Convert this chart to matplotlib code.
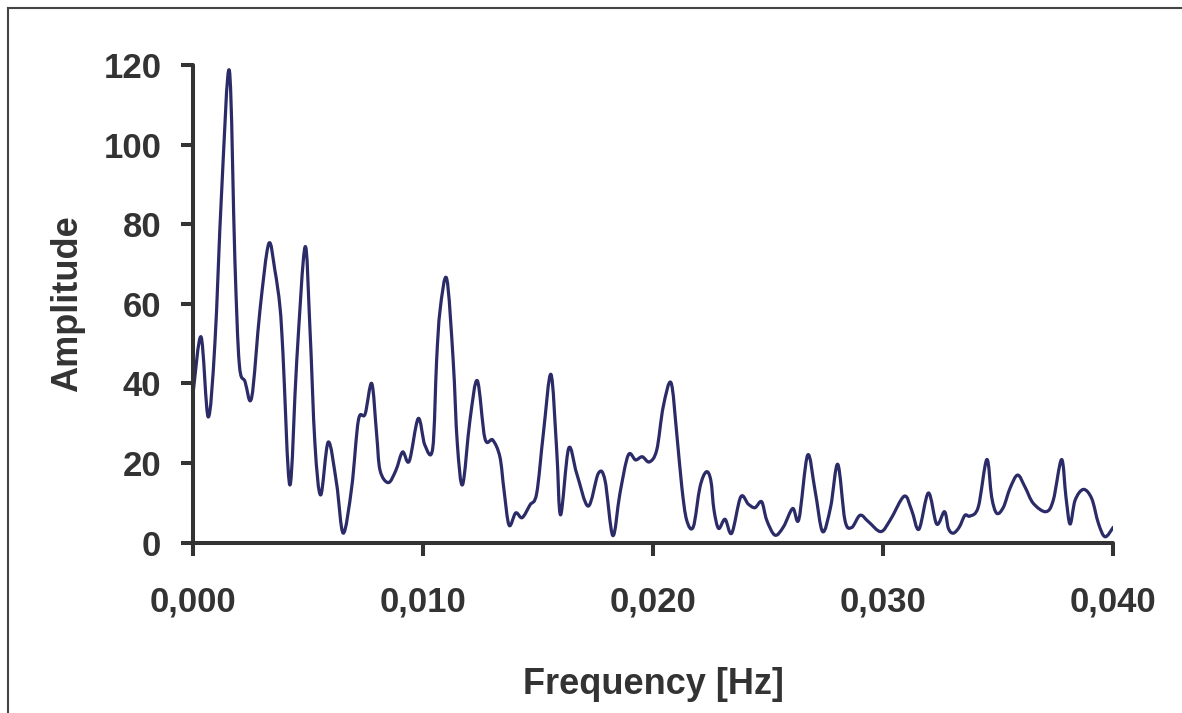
import numpy as np
import matplotlib
matplotlib.use('Agg')
import matplotlib.pyplot as plt
from matplotlib.path import Path
from matplotlib.patches import PathPatch
from matplotlib.lines import Line2D
from matplotlib.ticker import FuncFormatter

# spectrum
freq = [0.0, 0.00034, 0.00065, 0.00094, 0.00123, 0.00157, 0.00181, 0.0020, 0.00225,
        0.00254, 0.0029, 0.00328, 0.00355, 0.00377, 0.0039, 0.0042, 0.0045, 0.00486,
        0.00507, 0.00529, 0.00554, 0.00587, 0.00623, 0.00652, 0.00689, 0.00718,
        0.00747, 0.00776, 0.00797, 0.00812, 0.00848, 0.00881, 0.0091, 0.00939,
        0.00978, 0.01007, 0.01041, 0.01058, 0.01073, 0.01102, 0.0113, 0.01148,
        0.01171, 0.01203, 0.01235, 0.01268, 0.01302, 0.01333, 0.01351, 0.01373,
        0.01402, 0.0143, 0.01464, 0.01493, 0.01522, 0.01555, 0.0158, 0.01597,
        0.01632, 0.01667, 0.01717, 0.01761, 0.0179, 0.01824, 0.01855, 0.01891,
        0.01923, 0.01952, 0.01983, 0.02015, 0.02043, 0.02077, 0.02102, 0.02124,
        0.02145, 0.02174, 0.02203, 0.0223, 0.0225, 0.02264, 0.02284, 0.02312,
        0.02341, 0.0238, 0.02413, 0.02442, 0.02471, 0.02493, 0.02529, 0.02566,
        0.02606, 0.02633, 0.02671, 0.02703, 0.02736, 0.02771, 0.02802, 0.02833,
        0.02862, 0.02899, 0.02935, 0.02989, 0.0303, 0.03091, 0.03123, 0.03155,
        0.03196, 0.03232, 0.03266, 0.03283, 0.03304, 0.0333, 0.03355, 0.03377,
        0.03413, 0.0345, 0.03471, 0.03493, 0.03522, 0.03551, 0.03584, 0.03616,
        0.03652, 0.03707, 0.03739, 0.03775, 0.03794, 0.03812, 0.03834, 0.0387,
        0.03906, 0.03935, 0.03964, 0.0400]
amp = [38, 51.7, 31.6, 50, 87.7, 118.6, 71, 45, 40.5,
       36.5, 58.4, 75.1, 68.4, 59.2, 47.5, 14.5, 45.8, 74.3,
       54.2, 24.9, 12, 25.3, 14.9, 2.4, 14, 30.8,
       32.3, 40, 27.4, 18.2, 15.1, 18.2, 22.8, 20.5,
       31.2, 24.5, 23.7, 45.8, 58.4, 66.3, 45.8, 24.9,
       14.6, 30.8, 40.7, 26.2, 25.8, 21.6, 13.2, 4.4,
       7.5, 6.3, 9.5, 12.4, 27.4, 42.3, 23.3, 7,
       23.7, 17.4, 9.2, 17.4, 15.7, 1.8, 12.4, 22,
       20.8, 21.6, 20.3, 23.3, 34.1, 40.2, 27.4, 14,
       5.7, 4, 14, 17.8, 15.7, 8.2, 3.6, 5.9,
       2.4, 11.5, 9.7, 8.8, 10.3, 5.7, 1.9, 4,
       8.6, 5.9, 22, 13.2, 2.8, 9, 19.7, 5.7,
       3.8, 6.9, 5.3, 2.8, 5.7, 11.7, 8.2, 3.4,
       12.5, 4.7, 7.8, 3.6, 2.4, 3.9, 6.9, 6.7,
       9.0, 20.9, 11.5, 7.4, 8.9, 13.7, 17, 14,
       9.9, 7.8, 10.7, 20.9, 11.5, 4.7, 10.7, 13.4,
       11.1, 4.9, 1.5, 3.9]

xticks = [0.0, 0.01, 0.02, 0.03, 0.04]
yticks = [0, 20, 40, 60, 80, 100, 120]

TEXT = '#333333'
LINE = '#2b2b68'

plt.rcParams['font.family'] = ['Liberation Sans', 'DejaVu Sans']
plt.rcParams['font.weight'] = 'bold'


def smooth_path(x, y):
    # excel style smoothed line: cubic bezier through every point
    pts = np.column_stack([x, y])
    n = len(pts)
    verts = [pts[0]]
    codes = [Path.MOVETO]
    for i in range(n - 1):
        p0 = pts[i - 1] if i > 0 else pts[i]
        p1, p2 = pts[i], pts[i + 1]
        p3 = pts[i + 2] if i + 2 < n else pts[i + 1]
        c1 = p1 + (p2 - p0) / 6.0
        c2 = p2 - (p3 - p1) / 6.0
        verts += [c1, c2, p2]
        codes += [Path.CURVE4] * 3
    return Path(verts, codes)


fig = plt.figure(figsize=(11.82, 7.13), dpi=100)
ax = fig.add_axes([0.1635, 0.2388, 0.7784, 0.670])

ax.add_patch(PathPatch(smooth_path(freq, amp), facecolor='none',
                       edgecolor=LINE, lw=2.3, capstyle='round', joinstyle='round'))

ax.set_xlim(0, 0.04)
ax.set_ylim(0, 120)
ax.set_xticks(xticks)
ax.set_yticks(yticks)
ax.xaxis.set_major_formatter(FuncFormatter(lambda v, p: f'{v:.3f}'.replace('.', ',')))
ax.yaxis.set_major_formatter(FuncFormatter(lambda v, p: f'{v:.0f}'))

for s in ['top', 'right']:
    ax.spines[s].set_visible(False)
for s in ['left', 'bottom']:
    ax.spines[s].set_linewidth(2.9)
    ax.spines[s].set_color(TEXT)
    ax.spines[s].set_capstyle('round')
ax.tick_params(axis='both', direction='out', length=9, width=2.9, color=TEXT,
               labelsize=25, labelcolor=TEXT)
ax.tick_params(axis='x', pad=22)
ax.tick_params(axis='y', pad=14)

ax.set_xlabel('Frequency [Hz]', fontsize=26, fontweight='bold', color=TEXT, labelpad=35)
ax.set_ylabel('Amplitude', fontsize=26, fontweight='bold', color=TEXT, labelpad=13)

# frame of the original chart area
fig.add_artist(Line2D([7.5 / 1182, 7.5 / 1182], [0, 1 - 8 / 713],
                      transform=fig.transFigure, color='#444444', lw=1.5))
fig.add_artist(Line2D([7.5 / 1182, 1], [1 - 8 / 713, 1 - 8 / 713],
                      transform=fig.transFigure, color='#444444', lw=1.5))

fig.savefig('out.png', dpi=100)
